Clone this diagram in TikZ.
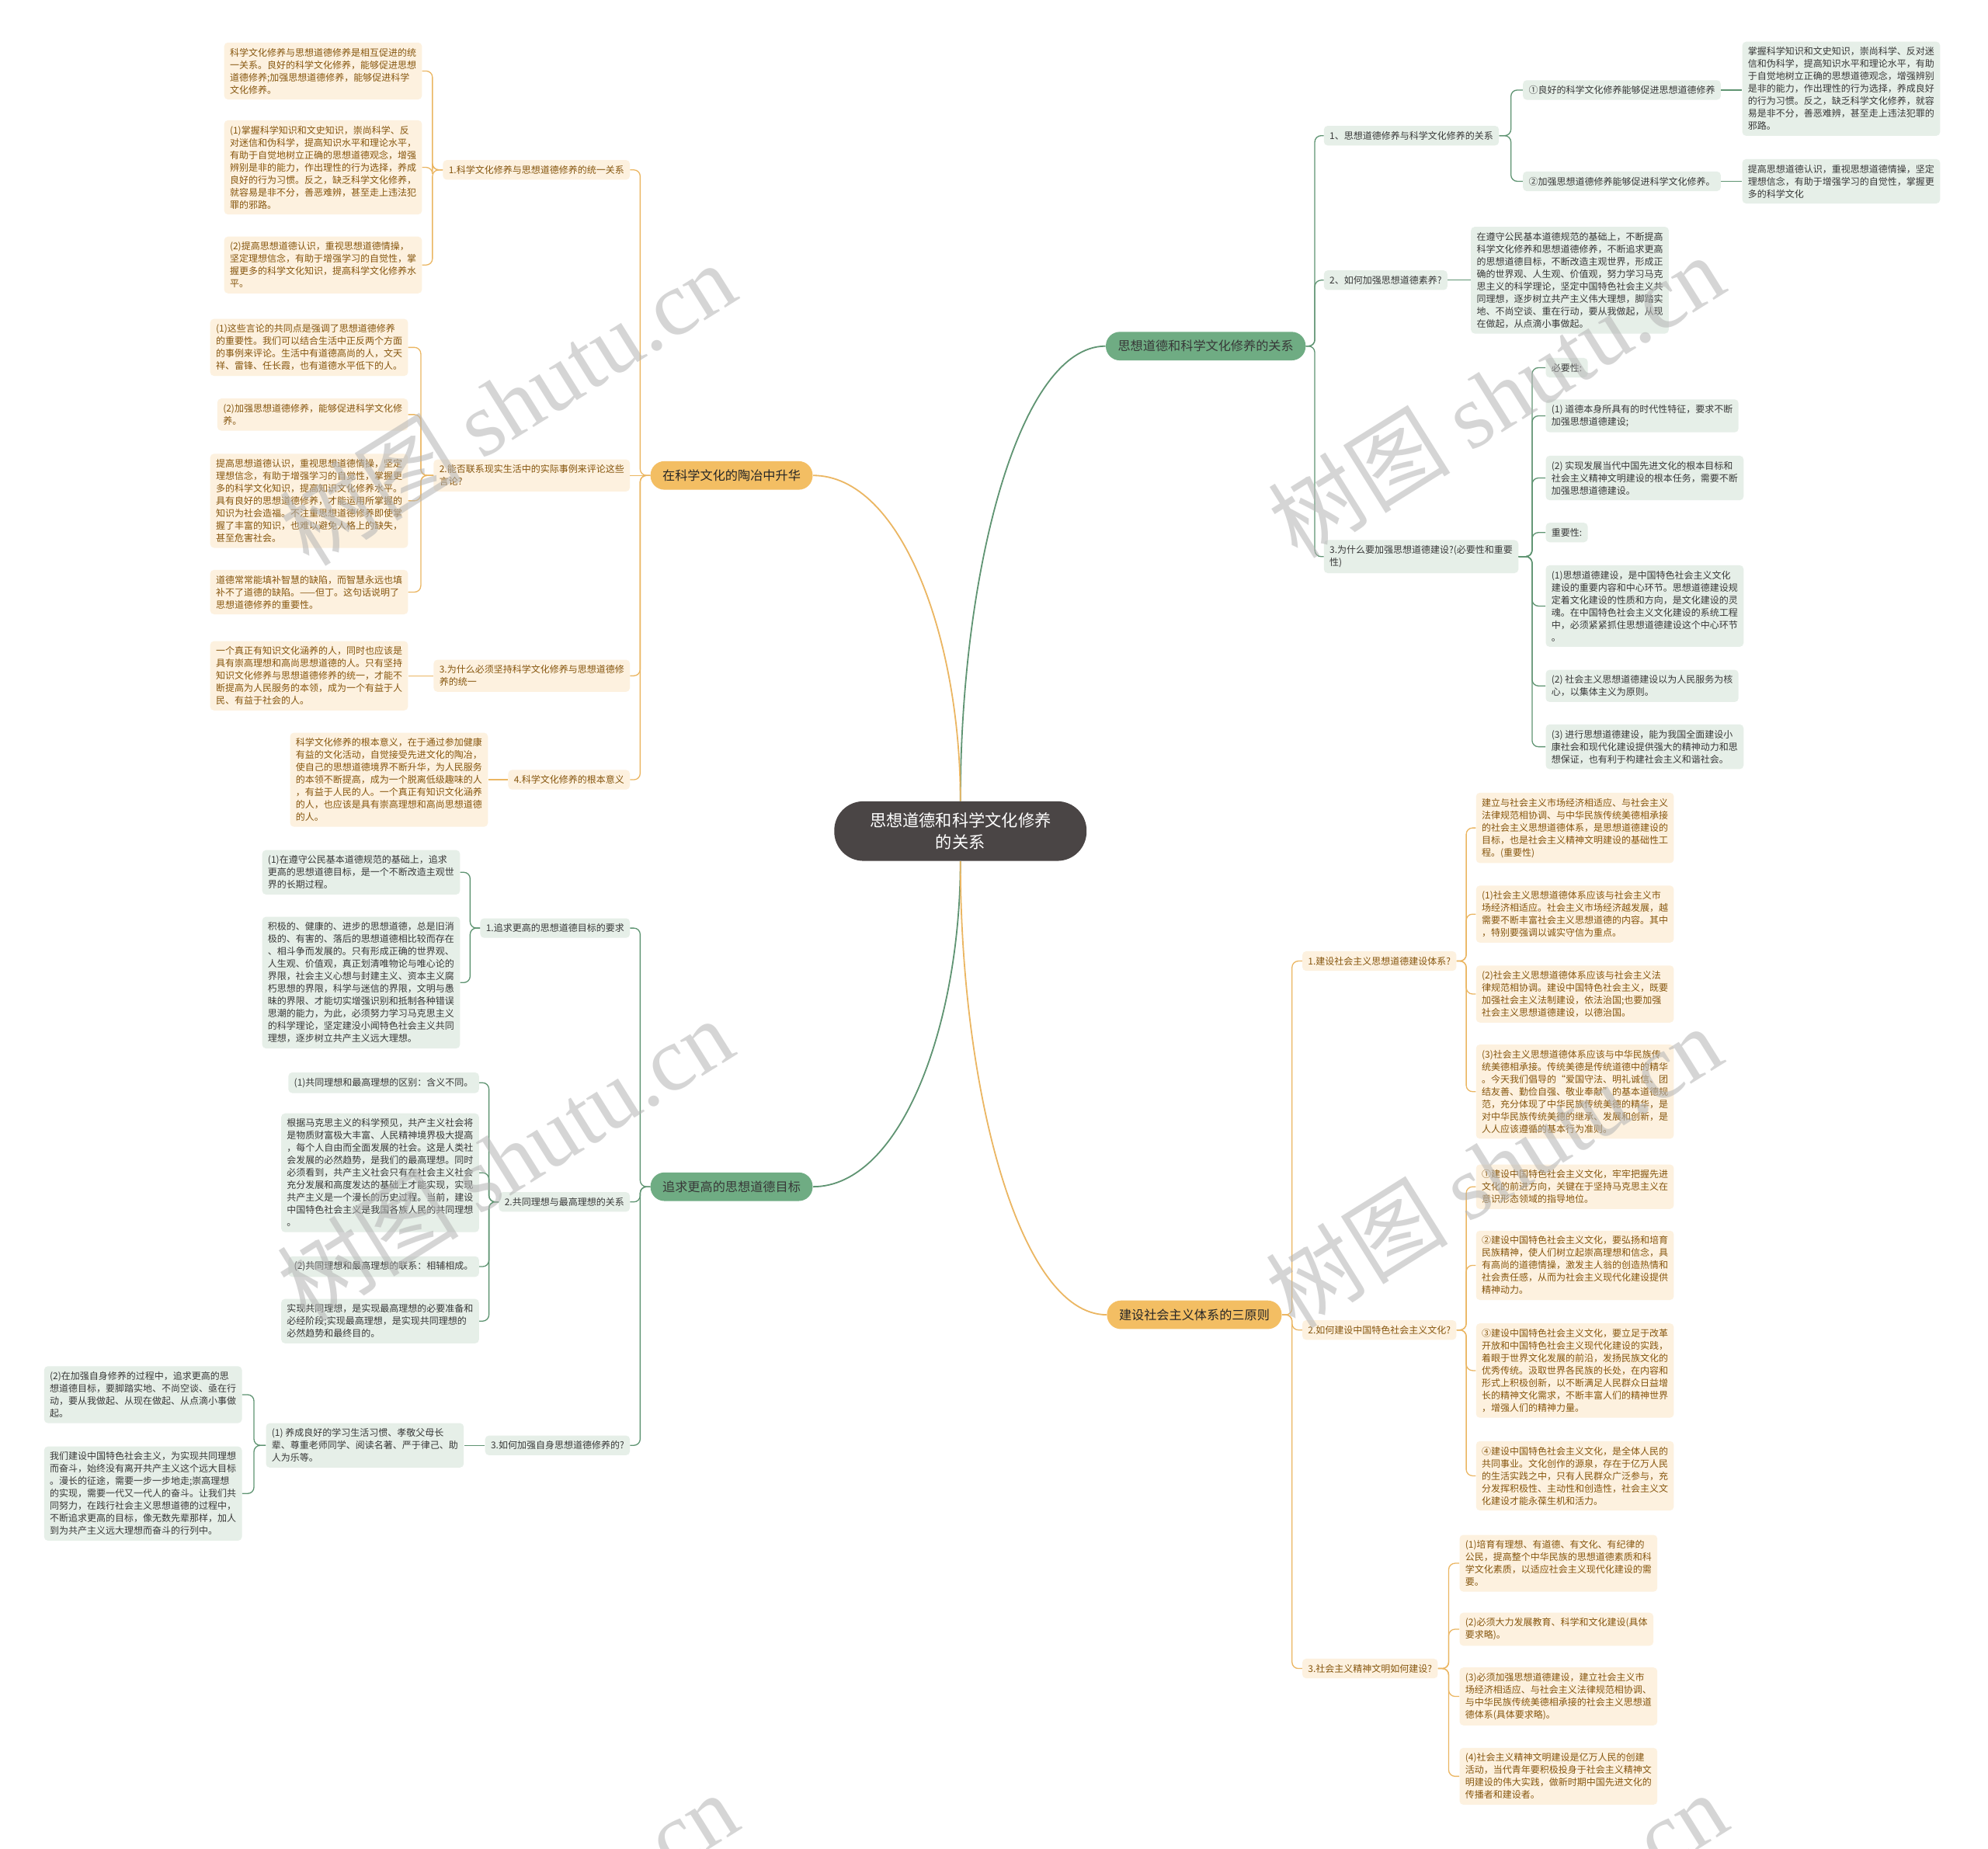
\documentclass[tikz,border=0pt]{standalone}
\usepackage{fontspec}
\setmainfont{Noto Sans CJK SC}
\newfontfamily\wmcjk{Noto Sans CJK SC}
\newfontfamily\wmlat{Liberation Serif}
\usetikzlibrary{calc}
\definecolor{cGline}{HTML}{5F9472}
\definecolor{cGmain}{HTML}{6FAC83}
\definecolor{cGfill}{HTML}{E6EFE8}
\definecolor{cGtext}{HTML}{383838}
\definecolor{cOline}{HTML}{EBB662}
\definecolor{cOmain}{HTML}{F3BE63}
\definecolor{cOfill}{HTML}{FDF1DF}
\definecolor{cOtext}{HTML}{86560E}
\definecolor{cCenter}{HTML}{4A4545}
\definecolor{cWM}{HTML}{B4B4B4}
\newcommand\lfnt{\fontsize{7.35}{9.8}\selectfont}
\newcommand\mfnt{\fontsize{9.9}{12}\selectfont}
\newcommand\cfnt{\fontsize{13}{17}\selectfont}
\begin{document}
\begin{tikzpicture}[x=1pt,y=-1pt,
  leafbase/.style={font=\lfnt, align=left, rounded corners=3pt, inner xsep=4.5pt, inner ysep=4.3pt},
  gleaf/.style={leafbase, fill=cGfill, text=cGtext},
  oleaf/.style={leafbase, fill=cOfill, text=cOtext},
  mainbase/.style={font=\mfnt, rounded corners=11pt, inner xsep=9.5pt, inner ysep=2pt, minimum height=22.5pt},
  gmain/.style={mainbase, fill=cGmain, text=cGtext},
  omain/.style={mainbase, fill=cOmain, text=black!85},
  centre/.style={font=\cfnt, fill=cCenter, text=white, rounded corners=23pt, minimum width=199pt, minimum height=47pt, align=center},
  gcon/.style={draw=cGline, line width=0.8pt, rounded corners=5pt},
  ocon/.style={draw=cOline, line width=0.8pt, rounded corners=5pt},
  gbig/.style={draw=cGline, line width=1.1pt},
  obig/.style={draw=cOline, line width=1.1pt},
  elb/.style={to path={-- ($(\tikztostart)!0.5!(\tikztotarget|-\tikztostart)$) |- (\tikztotarget)}},
  wm/.style={text=cWM, opacity=0.55, font=\fontsize{72}{72}\selectfont, inner sep=0pt}
]
\clip (0,0) rectangle (1568,1458);
\fill[white] (0,0) rectangle (1568,1458);

% ---------- centre and main branches ----------
\node[centre] (c) at (757.5,655.5) {思想道德和科学文化修养\\的关系};
\node[gmain] (M1) at (951,273) {思想道德和科学文化修养的关系};
\node[omain] (M2) at (577,375) {在科学文化的陶冶中升华};
\node[gmain] (M3) at (577,936) {追求更高的思想道德目标};
\node[omain] (M4) at (942,1037) {建设社会主义体系的三原则};

% ---------- M1 (right, green) ----------
\node[gleaf, anchor=west] (A1) at (1044,107) {1、思想道德修养与科学文化修养的关系};
\node[gleaf, anchor=west] (A1a) at (1201,71) {①良好的科学文化修养能够促进思想道德修养};
\node[gleaf, anchor=west] (A1al) at (1374,70) {掌握科学知识和文史知识，崇尚科学、反对迷\\信和伪科学，提高知识水平和理论水平，有助\\于自觉地树立正确的思想道德观念，增强辨别\\是非的能力，作出理性的行为选择，养成良好\\的行为习惯。反之，缺乏科学文化修养，就容\\易是非不分，善恶难辨，甚至走上违法犯罪的\\邪路。};
\node[gleaf, anchor=west] (A1b) at (1201,143) {②加强思想道德修养能够促进科学文化修养。};
\node[gleaf, anchor=west] (A1bl) at (1374,143) {提高思想道德认识，重视思想道德情操，坚定\\理想信念，有助于增强学习的自觉性，掌握更\\多的科学文化};
\node[gleaf, anchor=west] (A2) at (1044,221) {2、如何加强思想道德素养?};
\node[gleaf, anchor=west] (A2l) at (1160,221) {在遵守公民基本道德规范的基础上，不断提高\\科学文化修养和思想道德修养，不断追求更高\\的思想道德目标，不断改造主观世界，形成正\\确的世界观、人生观、价值观，努力学习马克\\思主义的科学理论，坚定中国特色社会主义共\\同理想，逐步树立共产主义伟大理想，脚踏实\\地、不尚空谈、重在行动，要从我做起，从现\\在做起，从点滴小事做起。};
\node[gleaf, anchor=west] (A3) at (1044,439) {3.为什么要加强思想道德建设?(必要性和重要\\性)};
\node[gleaf, anchor=west] (A3a) at (1219,290) {必要性:};
\node[gleaf, anchor=west] (A3b) at (1219,328) {(1) 道德本身所具有的时代性特征，要求不断\\加强思想道德建设;};
\node[gleaf, anchor=west] (A3c) at (1219,377) {(2) 实现发展当代中国先进文化的根本目标和\\社会主义精神文明建设的根本任务，需要不断\\加强思想道德建设。};
\node[gleaf, anchor=west] (A3d) at (1219,420) {重要性:};
\node[gleaf, anchor=west] (A3e) at (1219,478) {(1)思想道德建设，是中国特色社会主义文化\\建设的重要内容和中心环节。思想道德建设规\\定着文化建设的性质和方向，是文化建设的灵\\魂。在中国特色社会主义文化建设的系统工程\\中，必须紧紧抓住思想道德建设这个中心环节\\。};
\node[gleaf, anchor=west] (A3f) at (1219,541) {(2) 社会主义思想道德建设以为人民服务为核\\心，以集体主义为原则。};
\node[gleaf, anchor=west] (A3g) at (1219,589) {(3) 进行思想道德建设，能为我国全面建设小\\康社会和现代化建设提供强大的精神动力和思\\想保证，也有利于构建社会主义和谐社会。};

% ---------- M4 (right, orange) ----------
\node[oleaf, anchor=west] (B1) at (1027,758) {1.建设社会主义思想道德建设体系?};
\node[oleaf, anchor=west] (B1a) at (1164,653) {建立与社会主义市场经济相适应、与社会主义\\法律规范相协调、与中华民族传统美德相承接\\的社会主义思想道德体系，是思想道德建设的\\目标，也是社会主义精神文明建设的基础性工\\程。(重要性)};
\node[oleaf, anchor=west] (B1b) at (1164,721) {(1)社会主义思想道德体系应该与社会主义市\\场经济相适应。社会主义市场经济越发展，越\\需要不断丰富社会主义思想道德的内容。其中\\，特别要强调以诚实守信为重点。};
\node[oleaf, anchor=west] (B1c) at (1164,784) {(2)社会主义思想道德体系应该与社会主义法\\律规范相协调。建设中国特色社会主义，既要\\加强社会主义法制建设，依法治国;也要加强\\社会主义思想道德建设，以德治国。};
\node[oleaf, anchor=west] (B1d) at (1164,861) {(3)社会主义思想道德体系应该与中华民族传\\统美德相承接。传统美德是传统道德中的精华\\。今天我们倡导的“爱国守法、明礼诚信、团\\结友善、勤俭自强、敬业奉献”的基本道德规\\范，充分体现了中华民族传统美德的精华，是\\对中华民族传统美德的继承、发展和创新，是\\人人应该遵循的基本行为准则。};
\node[oleaf, anchor=west] (B2) at (1027,1049) {2.如何建设中国特色社会主义文化?};
\node[oleaf, anchor=west] (B2a) at (1164,936) {①建设中国特色社会主义文化，牢牢把握先进\\文化的前进方向，关键在于坚持马克思主义在\\意识形态领域的指导地位。};
\node[oleaf, anchor=west] (B2b) at (1164,998) {②建设中国特色社会主义文化，要弘扬和培育\\民族精神，使人们树立起崇高理想和信念，具\\有高尚的道德情操，激发主人翁的创造热情和\\社会责任感，从而为社会主义现代化建设提供\\精神动力。};
\node[oleaf, anchor=west] (B2c) at (1164,1081) {③建设中国特色社会主义文化，要立足于改革\\开放和中国特色社会主义现代化建设的实践，\\着眼于世界文化发展的前沿，发扬民族文化的\\优秀传统。汲取世界各民族的长处，在内容和\\形式上积极创新，以不断满足人民群众日益增\\长的精神文化需求，不断丰富人们的精神世界\\，增强人们的精神力量。};
\node[oleaf, anchor=west] (B2d) at (1164,1164) {④建设中国特色社会主义文化，是全体人民的\\共同事业。文化创作的源泉，存在于亿万人民\\的生活实践之中，只有人民群众广泛参与，充\\分发挥积极性、主动性和创造性，社会主义文\\化建设才能永葆生机和活力。};
\node[oleaf, anchor=west] (B3) at (1027,1316) {3.社会主义精神文明如何建设?};
\node[oleaf, anchor=west] (B3a) at (1151,1233) {(1)培育有理想、有道德、有文化、有纪律的\\公民，提高整个中华民族的思想道德素质和科\\学文化素质，以适应社会主义现代化建设的需\\要。};
\node[oleaf, anchor=west] (B3b) at (1151,1285) {(2)必须大力发展教育、科学和文化建设(具体\\要求略)。};
\node[oleaf, anchor=west] (B3c) at (1151,1338) {(3)必须加强思想道德建设，建立社会主义市\\场经济相适应、与社会主义法律规范相协调、\\与中华民族传统美德相承接的社会主义思想道\\德体系(具体要求略)。};
\node[oleaf, anchor=west] (B3d) at (1151,1401) {(4)社会主义精神文明建设是亿万人民的创建\\活动，当代青年要积极投身于社会主义精神文\\明建设的伟大实践，做新时期中国先进文化的\\传播者和建设者。};

% ---------- M2 (left, orange) ----------
\node[oleaf, anchor=east] (C1) at (497,134) {1.科学文化修养与思想道德修养的统一关系};
\node[oleaf, anchor=east] (C1a) at (333,56) {科学文化修养与思想道德修养是相互促进的统\\一关系。良好的科学文化修养，能够促进思想\\道德修养;加强思想道德修养，能够促进科学\\文化修养。};
\node[oleaf, anchor=east] (C1b) at (333,132) {(1)掌握科学知识和文史知识，崇尚科学、反\\对迷信和伪科学，提高知识水平和理论水平，\\有助于自觉地树立正确的思想道德观念，增强\\辨别是非的能力，作出理性的行为选择，养成\\良好的行为习惯。反之，缺乏科学文化修养，\\就容易是非不分，善恶难辨，甚至走上违法犯\\罪的邪路。};
\node[oleaf, anchor=east] (C1c) at (333,209) {(2)提高思想道德认识，重视思想道德情操，\\坚定理想信念，有助于增强学习的自觉性，掌\\握更多的科学文化知识，提高科学文化修养水\\平。};
\node[oleaf, anchor=east] (C2) at (497,375) {2.能否联系现实生活中的实际事例来评论这些\\言论?};
\node[oleaf, anchor=east] (C2a) at (322,274) {(1)这些言论的共同点是强调了思想道德修养\\的重要性。我们可以结合生活中正反两个方面\\的事例来评论。生活中有道德高尚的人，文天\\祥、雷锋、任长霞，也有道德水平低下的人。};
\node[oleaf, anchor=east] (C2b) at (322,327) {(2)加强思想道德修养，能够促进科学文化修\\养。};
\node[oleaf, anchor=east] (C2c) at (322,395) {提高思想道德认识，重视思想道德情操，坚定\\理想信念，有助于增强学习的自觉性，掌握更\\多的科学文化知识，提高知识文化修养水平。\\具有良好的思想道德修养，才能运用所掌握的\\知识为社会造福。不注重思想道德修养即使掌\\握了丰富的知识，也难以避免人格上的缺失，\\甚至危害社会。};
\node[oleaf, anchor=east] (C2d) at (322,467) {道德常常能填补智慧的缺陷，而智慧永远也填\\补不了道德的缺陷。——但丁。这句话说明了\\思想道德修养的重要性。};
\node[oleaf, anchor=east] (C3) at (497,533) {3.为什么必须坚持科学文化修养与思想道德修\\养的统一};
\node[oleaf, anchor=east] (C3a) at (322,533) {一个真正有知识文化涵养的人，同时也应该是\\具有崇高理想和高尚思想道德的人。只有坚持\\知识文化修养与思想道德修养的统一，才能不\\断提高为人民服务的本领，成为一个有益于人\\民、有益于社会的人。};
\node[oleaf, anchor=east] (C4) at (497,615) {4.科学文化修养的根本意义};
\node[oleaf, anchor=east] (C4a) at (385,615) {科学文化修养的根本意义，在于通过参加健康\\有益的文化活动，自觉接受先进文化的陶冶，\\使自己的思想道德境界不断升华，为人民服务\\的本领不断提高，成为一个脱离低级趣味的人\\，有益于人民的人。一个真正有知识文化涵养\\的人，也应该是具有崇高理想和高尚思想道德\\的人。};

% ---------- M3 (left, green) ----------
\node[gleaf, anchor=east] (D1) at (497,732) {1.追求更高的思想道德目标的要求};
\node[gleaf, anchor=east] (D1a) at (363,688) {(1)在遵守公民基本道德规范的基础上，追求\\更高的思想道德目标，是一个不断改造主观世\\界的长期过程。};
\node[gleaf, anchor=east] (D1b) at (363,775) {积极的、健康的、进步的思想道德，总是旧消\\极的、有害的、落后的思想道德相比较而存在\\、相斗争而发展的。只有形成正确的世界观、\\人生观、价值观，真正划清唯物论与唯心论的\\界限，社会主义心想与封建主义、资本主义腐\\朽思想的界限，科学与迷信的界限，文明与愚\\昧的界限、才能切实增强识别和抵制各种错误\\思潮的能力，为此，必须努力学习马克思主义\\的科学理论，坚定建没小闻特色社会主义共同\\理想，逐步树立共产主义远大理想。};
\node[gleaf, anchor=east] (D2) at (497,948) {2.共同理想与最高理想的关系};
\node[gleaf, anchor=east] (D2a) at (378,854) {(1)共同理想和最高理想的区别：含义不同。};
\node[gleaf, anchor=east] (D2b) at (378,925) {根据马克思主义的科学预见，共产主义社会将\\是物质财富极大丰富、人民精神境界极大提高\\，每个人自由而全面发展的社会。这是人类社\\会发展的必然趋势，是我们的最高理想。同时\\必须看到，共产主义社会只有在社会主义社会\\充分发展和高度发达的基础上才能实现，实现\\共产主义是一个漫长的历史过程。当前，建设\\中国特色社会主义是我国各族人民的共同理想\\。};
\node[gleaf, anchor=east] (D2c) at (378,999) {(2)共同理想和最高理想的联系：相辅相成。};
\node[gleaf, anchor=east] (D2d) at (378,1042) {实现共同理想，是实现最高理想的必要准备和\\必经阶段;实现最高理想，是实现共同理想的\\必然趋势和最终目的。};
\node[gleaf, anchor=east] (D3) at (497,1140) {3.如何加强自身思想道德修养的?};
\node[gleaf, anchor=east] (D3a) at (366,1140) {(1) 养成良好的学习生活习惯、孝敬父母长\\辈、尊重老师同学、阅读名著、严于律己、助\\人为乐等。};
\node[gleaf, anchor=east] (D3b) at (191,1100) {(2)在加强自身修养的过程中，追求更高的思\\想道德目标，要脚踏实地、不尚空谈、亟在行\\动，要从我做起、从现在做起、从点滴小事做\\起。};
\node[gleaf, anchor=east] (D3c) at (191,1178) {我们建设中国特色社会主义，为实现共同理想\\而奋斗，始终没有离开共产主义这个远大目标\\。漫长的征途，需要一步一步地走;崇高理想\\的实现，需要一代又一代人的奋斗。让我们共\\同努力，在践行社会主义思想道德的过程中，\\不断追求更高的目标，像无数先辈那样，加人\\到为共产主义远大理想而奋斗的行列中。};

% ---------- connectors: centre to main ----------
\draw[gbig] (c.north) .. controls ($(c.north)!0.5!(c.north|-M1.west)$) and ($(M1.west)!0.6!(M1.west-|c.north)$) .. (M1.west);
\draw[obig] (c.north) .. controls ($(c.north)!0.5!(c.north|-M2.east)$) and ($(M2.east)!0.6!(M2.east-|c.north)$) .. (M2.east);
\draw[gbig] (c.south) .. controls ($(c.south)!0.5!(c.south|-M3.east)$) and ($(M3.east)!0.6!(M3.east-|c.south)$) .. (M3.east);
\draw[obig] (c.south) .. controls ($(c.south)!0.5!(c.south|-M4.west)$) and ($(M4.west)!0.6!(M4.west-|c.south)$) .. (M4.west);

% ---------- connectors: M1 ----------
\draw[gcon] (M1.east) to[elb] (A1.west);
\draw[gcon] (M1.east) to[elb] (A2.west);
\draw[gcon] (M1.east) to[elb] (A3.west);
\draw[gcon] (A1.east) to[elb] (A1a.west);
\draw[gcon] (A1.east) to[elb] (A1b.west);
\draw[gcon] (A1a.east) -- (A1al.west|-A1a.east);
\draw[gcon] (A1b.east) -- (A1bl.west|-A1b.east);
\draw[gcon] (A2.east) -- (A2l.west|-A2.east);
\foreach \k in {A3a,A3b,A3c,A3d,A3e,A3f,A3g} {\draw[gcon] (A3.east) to[elb] (\k.west);}

% ---------- connectors: M4 ----------
\draw[ocon] (M4.east) to[elb] (B1.west);
\draw[ocon] (M4.east) to[elb] (B2.west);
\draw[ocon] (M4.east) to[elb] (B3.west);
\foreach \k in {B1a,B1b,B1c,B1d} {\draw[ocon] (B1.east) to[elb] (\k.west);}
\foreach \k in {B2a,B2b,B2c,B2d} {\draw[ocon] (B2.east) to[elb] (\k.west);}
\foreach \k in {B3a,B3b,B3c,B3d} {\draw[ocon] (B3.east) to[elb] (\k.west);}

% ---------- connectors: M2 ----------
\draw[ocon] (M2.west) to[elb] (C1.east);
\draw[ocon] (M2.west) -- (C2.east);
\draw[ocon] (M2.west) to[elb] (C3.east);
\draw[ocon] (M2.west) to[elb] (C4.east);
\foreach \k in {C1a,C1b,C1c} {\draw[ocon] (C1.west) to[elb] (\k.east);}
\foreach \k in {C2a,C2b,C2c,C2d} {\draw[ocon] (C2.west) to[elb] (\k.east);}
\draw[ocon] (C3.west) -- (C3a.east);
\draw[ocon] (C4.west) -- (C4a.east);

% ---------- connectors: M3 ----------
\draw[gcon] (M3.west) to[elb] (D1.east);
\draw[gcon] (M3.west) to[elb] (D2.east);
\draw[gcon] (M3.west) to[elb] (D3.east);
\foreach \k in {D1a,D1b} {\draw[gcon] (D1.west) to[elb] (\k.east);}
\foreach \k in {D2a,D2b,D2c,D2d} {\draw[gcon] (D2.west) to[elb] (\k.east);}
\draw[gcon] (D3.west) -- (D3a.east);
\foreach \k in {D3b,D3c} {\draw[gcon] (D3a.west) to[elb] (\k.east);}

% ---------- watermarks ----------
\node[wm, rotate=32] (w1) at (400,318) {{\wmcjk 树图} {\wmlat shutu.cn}};
\node[wm, rotate=32] (w2) at (1180,312) {{\wmcjk 树图} {\wmlat shutu.cn}};
\node[wm, rotate=32] (w3) at (398,914) {{\wmcjk 树图} {\wmlat shutu.cn}};
\node[wm, rotate=32] (w4) at (1178,920) {{\wmcjk 树图} {\wmlat shutu.cn}};
\node[wm, rotate=32] (w5) at (402,1525) {{\wmcjk 树图} {\wmlat shutu.cn}};
\node[wm, rotate=32] (w6) at (1182,1525) {{\wmcjk 树图} {\wmlat shutu.cn}};
\end{tikzpicture}
\end{document}
